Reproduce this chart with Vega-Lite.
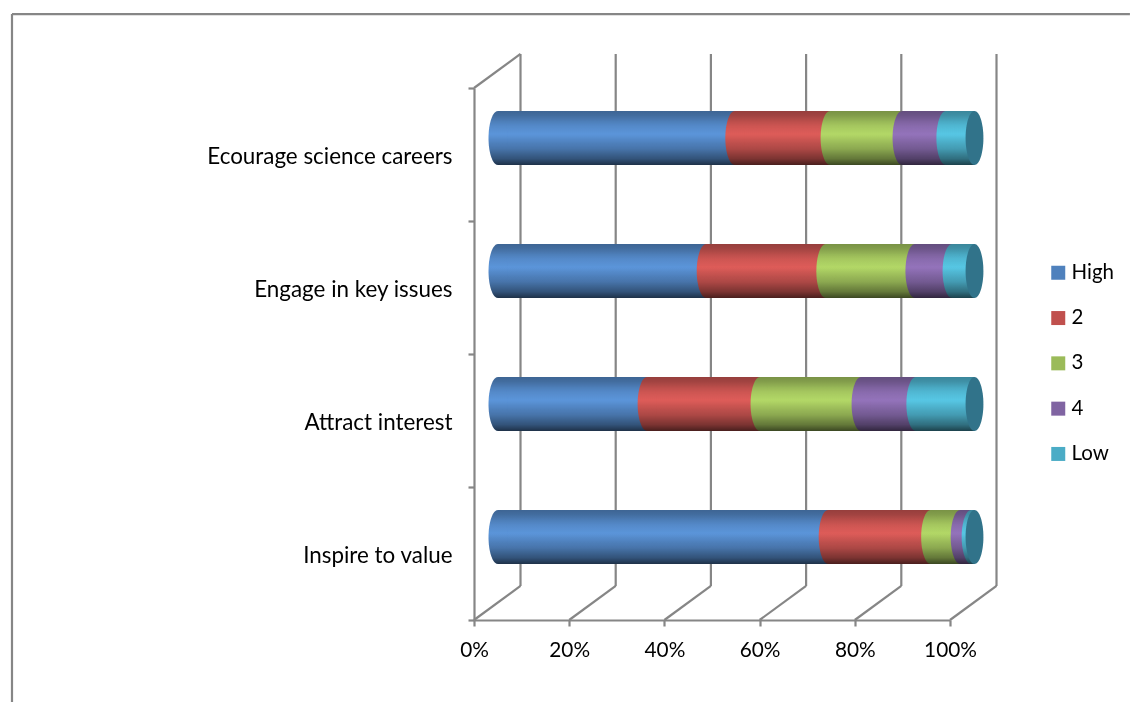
{
"$schema":"https://vega.github.io/schema/vega-lite/v6.json",
"width":1130,"height":702,"padding":0,"autosize":{"type":"none"},
"background":"white",
"config":{"view":{"stroke":null},"font":"Lato"},
"resolve":{"scale":{"x":"independent","y":"independent"},"axis":{"x":"independent","y":"independent"}},
"layer":[
{"data":{"values":[
{"x":9.77,"y":0.256,"x2":9.77,"y2":4.256},
{"x":29.77,"y":0.256,"x2":29.77,"y2":4.256},
{"x":49.77,"y":0.256,"x2":49.77,"y2":4.256},
{"x":69.77,"y":0.256,"x2":69.77,"y2":4.256},
{"x":89.77,"y":0.256,"x2":89.77,"y2":4.256},
{"x":109.77,"y":0.256,"x2":109.77,"y2":4.256},
{"x":0,"y":0,"x2":9.77,"y2":0.256},
{"x":20,"y":0,"x2":29.77,"y2":0.256},
{"x":40,"y":0,"x2":49.77,"y2":0.256},
{"x":60,"y":0,"x2":69.77,"y2":0.256},
{"x":80,"y":0,"x2":89.77,"y2":0.256},
{"x":100,"y":0,"x2":109.77,"y2":0.256},
{"x":0,"y":4,"x2":9.77,"y2":4.256},
{"x":-97.06,"y":4.556,"x2":137.8,"y2":4.556},
{"x":-97.06,"y":4.556,"x2":-97.06,"y2":-0.6165}
]},
"mark":{"type":"rule","stroke":"#868686","strokeWidth":2.2},
"encoding":{
"x":{"field":"x","type":"quantitative","scale":{"domain":[0,100],"range":[474,950],"nice":false,"zero":false},
"axis":{"orient":"bottom","offset":-82,"title":null,"grid":false,"values":[0,20,40,60,80,100],"labelExpr":"datum.value+'%'","labelFont":"Lato","labelFontSize":20.8,"labelColor":"#000000","labelPadding":14,"labelOverlap":false,"labelFlush":false,"tickSize":6,"tickWidth":2.2,"tickColor":"#868686","domainColor":"#868686","domainWidth":2.2}},
"x2":{"field":"x2"},
"y":{"field":"y","type":"quantitative","scale":{"domain":[0,4],"range":[620,88],"nice":false,"zero":false},
"axis":{"orient":"left","offset":-474,"title":null,"grid":false,"values":[0,1,2,3,4],"labels":false,"tickSize":6,"tickWidth":2.2,"tickColor":"#868686","domainColor":"#868686","domainWidth":2.2}},
"y2":{"field":"y2"}
}},
{"data":{"values":[
{"cat":"Ecourage science careers","series":"High","value":49.7},
{"cat":"Ecourage science careers","series":"2","value":20},
{"cat":"Ecourage science careers","series":"3","value":15.1},
{"cat":"Ecourage science careers","series":"4","value":9.2},
{"cat":"Ecourage science careers","series":"Low","value":6},
{"cat":"Engage in key issues","series":"High","value":43.7},
{"cat":"Engage in key issues","series":"2","value":25.1},
{"cat":"Engage in key issues","series":"3","value":18.7},
{"cat":"Engage in key issues","series":"4","value":7.8},
{"cat":"Engage in key issues","series":"Low","value":4.7},
{"cat":"Attract interest","series":"High","value":31.3},
{"cat":"Attract interest","series":"2","value":23.7},
{"cat":"Attract interest","series":"3","value":21.2},
{"cat":"Attract interest","series":"4","value":11.5},
{"cat":"Attract interest","series":"Low","value":12.3},
{"cat":"Inspire to value","series":"High","value":69.3},
{"cat":"Inspire to value","series":"2","value":21.5},
{"cat":"Inspire to value","series":"3","value":6.2},
{"cat":"Inspire to value","series":"4","value":2.3},
{"cat":"Inspire to value","series":"Low","value":0.7}
]},
"transform":[{"stack":"value","groupby":["cat"],"as":["x0","x1"]}],
"encoding":{
"y":{"field":"cat","type":"nominal","sort":null,"scale":{"domain":["Ecourage science careers","Engage in key issues","Attract interest","Inspire to value"],"range":[71.5,603.5],"paddingInner":0.594,"paddingOuter":0.297},
"axis":{"orient":"left","offset":-452,"title":null,"grid":false,"ticks":false,"domain":false,"labelPadding":0,"labelOffset":18.5,"labelFont":"Lato","labelFontSize":22.4,"labelColor":"#000000","labelLimit":400}}
},
"layer":[
{"mark":{"type":"bar"},
"encoding":{
"x":{"field":"x0","type":"quantitative","scale":{"domain":[0,100],"range":[498,974.5],"nice":false,"zero":false},"axis":null},
"x2":{"field":"x1"},
"color":{"field":"series","type":"nominal","sort":null,"scale":{"domain":["High","2","3","4","Low"],"range":["#4F81BD","#C0504D","#9BBB59","#8064A2","#4BACC6"]},
"legend":{"orient":"none","legendX":1048,"legendY":262.5,"title":null,"symbolType":"square","symbolSize":196,"symbolStrokeWidth":0,"labelFont":"Lato","labelFontSize":20.5,"labelColor":"#000000","labelOffset":3,"rowPadding":24.3}}
}},
{"mark":{"type":"point","filled":true,"opacity":1,"size":2916,"shape":"M0,-1A0.352,1,0,0,0,0,1A0.352,1,0,0,0,0,-1Z"},
"encoding":{
"x":{"field":"x0","type":"quantitative","scale":{"domain":[0,100],"range":[498,974.5],"nice":false,"zero":false},"axis":null},
"color":{"field":"series","type":"nominal","sort":null,"legend":null}
}},
{"transform":[{"filter":"datum.series==='High'"}],
"mark":{"type":"bar","blend":"color-dodge","fill":{"gradient":"linear","x1":0,"y1":0,"x2":0,"y2":1,"stops":[{"offset":0.08,"color":"#000000"},{"offset":0.28,"color":"#1c1c1c"},{"offset":0.45,"color":"#222222"},{"offset":0.6,"color":"#141414"},{"offset":0.85,"color":"#000000"}]}},
"encoding":{
"x":{"datum":0,"type":"quantitative","scale":{"domain":[0,100],"range":[498,974.5],"nice":false,"zero":false},"axis":null},
"x2":{"datum":100}
}},
{"transform":[{"filter":"datum.series==='High'"}],
"mark":{"type":"point","filled":true,"blend":"color-dodge","opacity":1,"size":2916,"shape":"M0,-1A0.352,1,0,0,0,0,1Z","fill":{"gradient":"linear","x1":0,"y1":0,"x2":0,"y2":1,"stops":[{"offset":0.08,"color":"#000000"},{"offset":0.28,"color":"#1c1c1c"},{"offset":0.45,"color":"#222222"},{"offset":0.6,"color":"#141414"},{"offset":0.85,"color":"#000000"}]}},
"encoding":{
"x":{"datum":0,"type":"quantitative","scale":{"domain":[0,100],"range":[498,974.5],"nice":false,"zero":false},"axis":null}
}},
{"transform":[{"filter":"datum.series==='High'"}],
"mark":{"type":"bar","fill":{"gradient":"linear","x1":0,"y1":0,"x2":0,"y2":1,"stops":[{"offset":0,"color":"rgba(0,0,0,0.22)"},{"offset":0.2,"color":"rgba(0,0,0,0.08)"},{"offset":0.42,"color":"rgba(0,0,0,0)"},{"offset":0.7,"color":"rgba(0,0,0,0.14)"},{"offset":0.88,"color":"rgba(0,0,0,0.35)"},{"offset":1,"color":"rgba(0,0,0,0.62)"}]}},
"encoding":{
"x":{"datum":0,"type":"quantitative","scale":{"domain":[0,100],"range":[498,974.5],"nice":false,"zero":false},"axis":null},
"x2":{"datum":100}
}},
{"transform":[{"filter":"datum.series==='High'"}],
"mark":{"type":"point","filled":true,"opacity":1,"size":2916,"shape":"M0,-1A0.352,1,0,0,0,0,1Z","fill":{"gradient":"linear","x1":0,"y1":0,"x2":0,"y2":1,"stops":[{"offset":0,"color":"rgba(0,0,0,0.22)"},{"offset":0.2,"color":"rgba(0,0,0,0.08)"},{"offset":0.42,"color":"rgba(0,0,0,0)"},{"offset":0.7,"color":"rgba(0,0,0,0.14)"},{"offset":0.88,"color":"rgba(0,0,0,0.35)"},{"offset":1,"color":"rgba(0,0,0,0.62)"}]}},
"encoding":{
"x":{"datum":0,"type":"quantitative","scale":{"domain":[0,100],"range":[498,974.5],"nice":false,"zero":false},"axis":null}
}},
{"transform":[{"filter":"datum.series==='Low'"}],
"mark":{"type":"point","filled":true,"opacity":1,"size":2916,"shape":"M0,-1A0.33,1,0,0,0,0,1A0.33,1,0,0,0,0,-1Z","fill":"#31738A"},
"encoding":{
"x":{"field":"x1","type":"quantitative","scale":{"domain":[0,100],"range":[498,974.5],"nice":false,"zero":false},"axis":null}
}}
]}
]
}
